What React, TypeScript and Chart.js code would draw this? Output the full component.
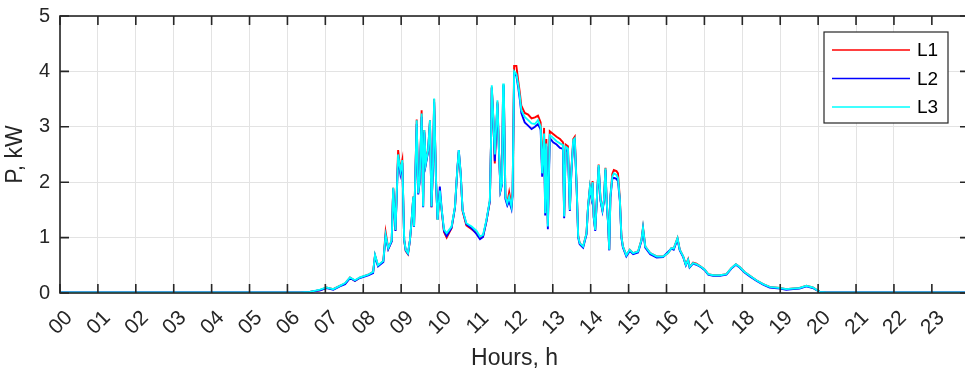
import React, { useEffect, useRef } from "react";
import { Chart, registerables } from "chart.js";
Chart.register(...registerables);

// time of day, hours
const hours = [
  0.0, 2.0, 4.0, 6.0, 6.33, 6.59, 6.86, 7.03, 7.21, 7.38, 7.52, 7.65, 7.78, 7.91, 8.13, 8.26, 8.31, 8.39, 8.53, 8.59,
  8.66, 8.75, 8.79, 8.85, 8.92, 8.98, 9.03, 9.08, 9.12, 9.18, 9.23, 9.27, 9.32, 9.34, 9.41, 9.45, 9.49, 9.54, 9.58, 9.61,
  9.65, 9.71, 9.76, 9.8, 9.84, 9.87, 9.92, 9.96, 10.02, 10.07, 10.13, 10.2, 10.33, 10.42, 10.48, 10.52, 10.57, 10.62, 10.72, 10.86,
  10.99, 11.08, 11.16, 11.25, 11.34, 11.37, 11.39, 11.43, 11.47, 11.54, 11.58, 11.62, 11.66, 11.69, 11.71, 11.75, 11.8, 11.85, 11.91, 11.94,
  11.98, 12.04, 12.09, 12.13, 12.17, 12.26, 12.35, 12.44, 12.53, 12.61, 12.68, 12.72, 12.77, 12.8, 12.83, 12.87, 12.92, 13.01, 13.1, 13.19,
  13.27, 13.3, 13.34, 13.4, 13.45, 13.49, 13.54, 13.58, 13.63, 13.67, 13.71, 13.8, 13.89, 13.93, 13.98, 14.02, 14.05, 14.08, 14.12, 14.17,
  14.21, 14.26, 14.31, 14.35, 14.39, 14.42, 14.46, 14.49, 14.52, 14.57, 14.61, 14.68, 14.72, 14.77, 14.81, 14.85, 14.94, 15.03, 15.12, 15.25,
  15.34, 15.38, 15.44, 15.57, 15.74, 15.91, 16.04, 16.13, 16.19, 16.29, 16.35, 16.44, 16.51, 16.57, 16.61, 16.7, 16.79, 16.92, 17.01, 17.1,
  17.23, 17.41, 17.58, 17.71, 17.83, 17.93, 18.06, 18.2, 18.37, 18.55, 18.72, 18.99, 19.16, 19.34, 19.51, 19.69, 19.86, 20.04, 20.22, 22.0,
  23.98,
];

// phase L1 power, kW
const L1 = [
  0.01, 0.01, 0.01, 0.01, 0.01, 0.02, 0.05, 0.1, 0.07, 0.13, 0.17, 0.28, 0.22, 0.28, 0.33, 0.38, 0.68, 0.49, 0.58, 1.1,
  0.8, 0.94, 1.9, 1.13, 2.58, 2.22, 2.4, 0.95, 0.76, 0.7, 0.94, 1.25, 1.74, 1.2, 3.13, 1.8, 2.04, 3.3, 1.56, 2.94,
  2.34, 2.58, 3.12, 1.55, 2.3, 3.5, 2.04, 1.32, 1.8, 1.48, 1.1, 1.0, 1.17, 1.55, 2.2, 2.55, 2.15, 1.48, 1.22, 1.15,
  1.08, 0.99, 1.02, 1.3, 1.66, 2.7, 3.72, 3.18, 2.34, 3.45, 2.58, 1.86, 1.98, 3.76, 3.58, 1.74, 1.62, 1.82, 1.58, 1.82,
  4.1, 4.1, 3.82, 3.62, 3.38, 3.25, 3.22, 3.15, 3.17, 3.2, 3.08, 2.2, 2.98, 1.48, 2.78, 1.24, 2.92, 2.87, 2.82, 2.78,
  2.72, 1.4, 2.68, 2.65, 1.52, 2.22, 2.78, 2.82, 1.92, 1.04, 0.9, 0.84, 1.08, 1.56, 1.92, 1.75, 2.02, 1.38, 1.14, 1.8,
  2.32, 1.68, 1.5, 1.68, 2.26, 1.68, 1.26, 0.78, 1.74, 2.15, 2.22, 2.2, 2.16, 1.7, 1.03, 0.84, 0.68, 0.78, 0.72, 0.75,
  0.96, 1.18, 0.84, 0.72, 0.66, 0.66, 0.72, 0.81, 0.8, 0.99, 0.78, 0.66, 0.51, 0.61, 0.47, 0.55, 0.53, 0.47, 0.42, 0.34,
  0.32, 0.32, 0.34, 0.45, 0.52, 0.47, 0.38, 0.31, 0.23, 0.16, 0.11, 0.09, 0.07, 0.08, 0.09, 0.13, 0.1, 0.02, 0.01, 0.01,
  0.01,
];

// phase L2 power, kW
const L2 = [
  0.01, 0.01, 0.01, 0.01, 0.01, 0.02, 0.05, 0.09, 0.06, 0.12, 0.16, 0.27, 0.22, 0.27, 0.32, 0.36, 0.67, 0.48, 0.56, 1.03,
  0.79, 0.93, 1.88, 1.12, 2.45, 2.15, 2.35, 0.96, 0.77, 0.71, 0.94, 1.25, 1.72, 1.19, 3.05, 1.78, 2.02, 3.18, 1.55, 2.9,
  2.32, 2.55, 3.08, 1.55, 2.28, 3.45, 2.0, 1.33, 1.92, 1.5, 1.12, 1.03, 1.18, 1.54, 2.22, 2.58, 2.16, 1.5, 1.24, 1.17,
  1.06, 0.97, 1.01, 1.3, 1.66, 2.68, 3.7, 3.15, 2.38, 3.42, 2.55, 1.84, 1.95, 3.74, 3.55, 1.7, 1.58, 1.66, 1.52, 1.76,
  3.95, 3.92, 3.7, 3.5, 3.25, 3.08, 3.02, 2.96, 3.0, 3.05, 2.95, 2.1, 2.82, 1.4, 2.65, 1.15, 2.8, 2.72, 2.68, 2.62,
  2.6, 1.35, 2.58, 2.56, 1.48, 2.18, 2.72, 2.75, 1.88, 1.0, 0.88, 0.82, 1.06, 1.54, 1.88, 1.72, 1.98, 1.36, 1.12, 1.78,
  2.28, 1.66, 1.48, 1.66, 2.22, 1.66, 1.24, 0.77, 1.72, 2.06, 2.08, 2.06, 2.02, 1.66, 1.0, 0.82, 0.66, 0.76, 0.7, 0.73,
  0.94, 1.16, 0.82, 0.7, 0.64, 0.65, 0.74, 0.8, 0.78, 0.97, 0.77, 0.65, 0.5, 0.59, 0.46, 0.53, 0.51, 0.46, 0.41, 0.33,
  0.31, 0.31, 0.33, 0.44, 0.51, 0.46, 0.37, 0.3, 0.22, 0.15, 0.1, 0.08, 0.06, 0.07, 0.08, 0.12, 0.09, 0.02, 0.01, 0.01,
  0.01,
];

// phase L3 power, kW
const L3 = [
  0.01, 0.01, 0.01, 0.01, 0.01, 0.02, 0.06, 0.1, 0.07, 0.13, 0.18, 0.28, 0.23, 0.28, 0.33, 0.38, 0.69, 0.5, 0.58, 1.05,
  0.81, 0.95, 1.9, 1.14, 2.5, 2.2, 2.4, 0.96, 0.78, 0.72, 0.95, 1.26, 1.74, 1.2, 3.12, 1.8, 2.04, 3.24, 1.56, 2.94,
  2.34, 2.58, 3.12, 1.56, 2.3, 3.51, 2.04, 1.32, 1.85, 1.5, 1.15, 1.08, 1.2, 1.56, 2.22, 2.58, 2.16, 1.5, 1.26, 1.2,
  1.12, 1.02, 1.05, 1.32, 1.68, 2.7, 3.75, 3.18, 2.5, 3.48, 2.58, 1.86, 1.98, 3.78, 3.6, 1.74, 1.62, 1.74, 1.56, 1.8,
  4.0, 3.95, 3.75, 3.55, 3.3, 3.18, 3.12, 3.06, 3.05, 3.12, 3.0, 2.16, 2.88, 1.44, 2.7, 1.2, 2.85, 2.8, 2.74, 2.7,
  2.67, 1.38, 2.64, 2.61, 1.5, 2.2, 2.76, 2.79, 1.9, 1.02, 0.9, 0.84, 1.08, 1.56, 1.92, 1.75, 2.0, 1.38, 1.14, 1.8,
  2.31, 1.68, 1.5, 1.68, 2.25, 1.68, 1.26, 0.78, 1.74, 2.1, 2.16, 2.13, 2.08, 1.68, 1.02, 0.84, 0.68, 0.78, 0.72, 0.75,
  0.96, 1.18, 0.84, 0.72, 0.66, 0.66, 0.72, 0.81, 0.8, 0.99, 0.78, 0.66, 0.51, 0.6, 0.47, 0.54, 0.52, 0.47, 0.42, 0.34,
  0.32, 0.32, 0.34, 0.45, 0.52, 0.47, 0.38, 0.31, 0.23, 0.16, 0.11, 0.09, 0.07, 0.08, 0.09, 0.13, 0.1, 0.02, 0.01, 0.01,
  0.01,
];

const hourLabels = [
  "00", "01", "02", "03", "04", "05", "06", "07", "08", "09", "10", "11",
  "12", "13", "14", "15", "16", "17", "18", "19", "20", "21", "22", "23",
];
const yTicks = [0, 1, 2, 3, 4, 5];
const seriesNames = ["L1", "L2", "L3"];
const seriesColors = ["#ff0000", "#0000ff", "#00ffff"];
// drawing order: L3 on top, then L2, L1 underneath
const seriesOrder = [3, 2, 1];

const FONT = '"Liberation Sans", Arial, Helvetica, sans-serif';
const AXIS = "#262626";
const GRID = "#e3e3e3";

export default function App() {
  const ref = useRef<HTMLCanvasElement>(null);

  useEffect(() => {
    const canvas = ref.current;
    if (!canvas) return;

    const matlabPlugin = {
      id: "matlabDecor",
      afterDraw(chart: any) {
        const { ctx, chartArea: a, scales } = chart;
        const xs = scales.x;
        const ys = scales.y;
        ctx.save();

        // rotated x tick labels
        ctx.fillStyle = AXIS;
        ctx.font = `21px ${FONT}`;
        ctx.textAlign = "center";
        ctx.textBaseline = "middle";
        hourLabels.forEach((lab, i) => {
          const px = xs.getPixelForValue(i);
          ctx.save();
          ctx.translate(px + 1, a.bottom + 30);
          ctx.rotate(-Math.PI / 4);
          ctx.fillText(lab, 0, 0);
          ctx.restore();
        });

        // axes box
        ctx.strokeStyle = AXIS;
        ctx.lineWidth = 1.6;
        ctx.strokeRect(a.left, a.top, a.right - a.left, a.bottom - a.top);

        // inward ticks
        const tl = 9;
        ctx.beginPath();
        hourLabels.forEach((_, i) => {
          const px = xs.getPixelForValue(i);
          ctx.moveTo(px, a.bottom);
          ctx.lineTo(px, a.bottom - tl);
          ctx.moveTo(px, a.top);
          ctx.lineTo(px, a.top + tl);
        });
        yTicks.forEach((v) => {
          const py = ys.getPixelForValue(v);
          ctx.moveTo(a.left, py);
          ctx.lineTo(a.left + tl, py);
          ctx.moveTo(a.right, py);
          ctx.lineTo(a.right - tl, py);
        });
        ctx.stroke();

        // legend
        const lx = a.right - 145;
        const ly = a.top + 16;
        const lw = 124;
        const lh = 91;
        ctx.fillStyle = "#ffffff";
        ctx.fillRect(lx, ly, lw, lh);
        ctx.lineWidth = 1.2;
        ctx.strokeStyle = AXIS;
        ctx.strokeRect(lx, ly, lw, lh);
        ctx.font = `19px ${FONT}`;
        ctx.textAlign = "left";
        ctx.textBaseline = "middle";
        seriesNames.forEach((name, i) => {
          const yy = ly + 18 + i * 28.5;
          ctx.strokeStyle = seriesColors[i];
          ctx.lineWidth = 1.5;
          ctx.beginPath();
          ctx.moveTo(lx + 8, yy);
          ctx.lineTo(lx + 86, yy);
          ctx.stroke();
          ctx.fillStyle = "#000000";
          ctx.fillText(name, lx + 93, yy + 1);
        });

        ctx.restore();
      },
    };

    const series = [L1, L2, L3];
    const chart = new Chart(canvas, {
      type: "line",
      data: {
        datasets: series.map((vals, k) => ({
          label: seriesNames[k],
          data: hours.map((t, i) => ({ x: t, y: vals[i] })),
          borderColor: seriesColors[k],
          backgroundColor: seriesColors[k],
          borderWidth: 1.9,
          pointRadius: 0,
          tension: 0,
          fill: false,
          order: seriesOrder[k],
        })),
      },
      options: {
        responsive: false,
        animation: false,
        devicePixelRatio: 1,
        layout: { padding: { top: 16, right: 6, left: 0, bottom: 0 } },
        plugins: {
          legend: { display: false },
          tooltip: { enabled: false },
        },
        scales: {
          x: {
            type: "linear",
            min: 0,
            max: 23.98,
            ticks: { stepSize: 1, display: false },
            grid: { color: GRID, drawTicks: false, lineWidth: 1 },
            border: { display: false },
            title: {
              display: true,
              text: "Hours, h",
              color: AXIS,
              font: { family: FONT, size: 23, lineHeight: 1 },
              padding: { top: 0, bottom: 1.5 },
            },
            afterFit: (s: any) => {
              s.height = 79;
              s.paddingLeft = 0;
              s.paddingRight = 0;
            },
          },
          y: {
            min: 0,
            max: 5,
            ticks: {
              stepSize: 1,
              padding: 10,
              color: AXIS,
              font: { family: FONT, size: 20 },
            },
            grid: { color: GRID, drawTicks: false, lineWidth: 1 },
            border: { display: false },
            title: {
              display: true,
              text: "P, kW",
              color: AXIS,
              font: { family: FONT, size: 23, lineHeight: 1 },
              padding: { top: 4, bottom: 0 },
            },
            afterFit: (s: any) => {
              s.width = 60;
              s.paddingTop = 0;
              s.paddingBottom = 0;
            },
          },
        },
      },
      plugins: [matlabPlugin],
    });

    return () => chart.destroy();
  }, []);

  return (
    <div
      style={{
        position: "fixed",
        left: 0,
        top: 0,
        width: 965,
        height: 372,
        overflow: "hidden",
        background: "#ffffff",
      }}
    >
      <canvas ref={ref} width={975} height={372} style={{ display: "block", width: 975, height: 372 }} />
    </div>
  );
}
